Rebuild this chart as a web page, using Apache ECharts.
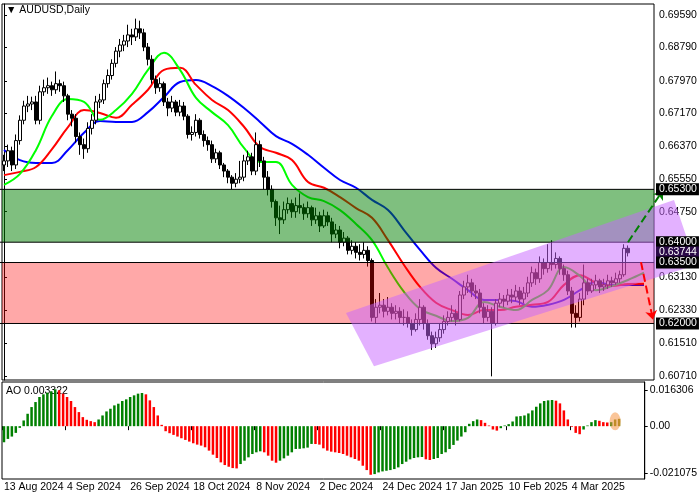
<!DOCTYPE html>
<html><head><meta charset="utf-8">
<script src="https://cdn.jsdelivr.net/npm/echarts@6/dist/echarts.min.js"></script>
<style>html,body{margin:0;padding:0;background:#fff}#c{width:700px;height:500px}</style>
</head><body><div id="c"></div>
<script>
const closes=[0.6600,0.6625,0.6590,0.6650,0.6700,0.6735,0.6740,0.6745,0.6700,0.6770,
0.6780,0.6785,0.6775,0.6790,0.6785,0.6760,0.6715,0.6705,0.6660,0.6640,
0.6630,0.6680,0.6700,0.6745,0.6750,0.6790,0.6810,0.6840,0.6870,0.6885,
0.6895,0.6910,0.6905,0.6925,0.6915,0.6880,0.6850,0.6800,0.6780,0.6790,
0.6745,0.6730,0.6745,0.6720,0.6735,0.6710,0.6665,0.6670,0.6700,0.6665,
0.6650,0.6640,0.6605,0.6620,0.6590,0.6575,0.6560,0.6545,0.6555,0.6560,
0.6600,0.6610,0.6575,0.6640,0.6600,0.6560,0.6530,0.6500,0.6460,0.6455,
0.6480,0.6495,0.6475,0.6490,0.6485,0.6470,0.6485,0.6455,0.6465,0.6440,
0.6465,0.6450,0.6420,0.6430,0.6400,0.6410,0.6380,0.6390,0.6375,0.6370,
0.6380,0.6355,0.6215,0.6240,0.6245,0.6230,0.6240,0.6225,0.6230,0.6215,
0.6215,0.6200,0.6185,0.6210,0.6240,0.6200,0.6170,0.6150,0.6165,0.6185,
0.6205,0.6215,0.6225,0.6210,0.6270,0.6290,0.6300,0.6280,0.6275,0.6240,
0.6215,0.6230,0.6200,0.6250,0.6260,0.6255,0.6270,0.6265,0.6280,0.6260,
0.6275,0.6300,0.6325,0.6310,0.6350,0.6335,0.6350,0.6345,0.6360,0.6335,
0.6320,0.6280,0.6225,0.6215,0.6260,0.6300,0.6280,0.6295,0.6305,0.6290,
0.6295,0.6305,0.6300,0.6310,0.6320,0.6385,0.6374];
const highs=[0.6615,0.6640,0.6635,0.6665,0.6712,0.6748,0.6760,0.6758,0.6760,0.6785,
0.6800,0.6805,0.6795,0.6820,0.6800,0.6795,0.6765,0.6725,0.6715,0.6670,
0.6655,0.6695,0.6715,0.6760,0.6765,0.6800,0.6825,0.6850,0.6880,0.6900,
0.6910,0.6935,0.6925,0.6950,0.6945,0.6925,0.6890,0.6860,0.6810,0.6805,
0.6795,0.6755,0.6760,0.6750,0.6750,0.6745,0.6715,0.6685,0.6715,0.6705,
0.6675,0.6660,0.6650,0.6630,0.6625,0.6595,0.6580,0.6565,0.6570,0.6600,
0.6615,0.6625,0.6620,0.6670,0.6650,0.6610,0.6575,0.6540,0.6505,0.6490,
0.6500,0.6510,0.6505,0.6510,0.6520,0.6495,0.6500,0.6490,0.6485,0.6475,
0.6480,0.6475,0.6460,0.6445,0.6440,0.6425,0.6415,0.6405,0.6400,0.6395,
0.6400,0.6390,0.6360,0.6260,0.6275,0.6260,0.6265,0.6250,0.6245,0.6240,
0.6235,0.6230,0.6210,0.6225,0.6260,0.6245,0.6210,0.6180,0.6180,0.6200,
0.6220,0.6230,0.6245,0.6235,0.6280,0.6305,0.6320,0.6310,0.6295,0.6285,
0.6250,0.6245,0.6240,0.6260,0.6275,0.6270,0.6285,0.6285,0.6295,0.6290,
0.6290,0.6315,0.6340,0.6335,0.6365,0.6360,0.6395,0.6405,0.6375,0.6365,
0.6345,0.6330,0.6290,0.6245,0.6275,0.6345,0.6310,0.6310,0.6320,0.6310,
0.6310,0.6320,0.6315,0.6325,0.6330,0.6395,0.6392];
const lows=[0.6575,0.6585,0.6575,0.6580,0.6640,0.6690,0.6720,0.6725,0.6690,0.6690,
0.6760,0.6765,0.6760,0.6765,0.6770,0.6745,0.6700,0.6685,0.6645,0.6615,
0.6605,0.6620,0.6665,0.6690,0.6730,0.6740,0.6780,0.6800,0.6830,0.6855,
0.6870,0.6880,0.6885,0.6895,0.6900,0.6870,0.6835,0.6790,0.6765,0.6770,
0.6735,0.6710,0.6720,0.6710,0.6710,0.6700,0.6655,0.6650,0.6660,0.6655,
0.6635,0.6625,0.6595,0.6595,0.6580,0.6560,0.6545,0.6530,0.6535,0.6545,
0.6550,0.6590,0.6565,0.6565,0.6585,0.6530,0.6515,0.6485,0.6440,0.6420,
0.6445,0.6470,0.6460,0.6460,0.6470,0.6455,0.6460,0.6440,0.6445,0.6425,
0.6435,0.6440,0.6400,0.6410,0.6385,0.6390,0.6370,0.6370,0.6360,0.6355,
0.6360,0.6340,0.6205,0.6200,0.6225,0.6215,0.6220,0.6210,0.6210,0.6200,
0.6195,0.6190,0.6170,0.6180,0.6195,0.6185,0.6160,0.6135,0.6140,0.6155,
0.6175,0.6195,0.6205,0.6195,0.6205,0.6260,0.6275,0.6265,0.6260,0.6225,
0.6200,0.6205,0.6070,0.6195,0.6240,0.6240,0.6245,0.6250,0.6255,0.6245,
0.6250,0.6265,0.6290,0.6295,0.6300,0.6320,0.6325,0.6330,0.6335,0.6320,
0.6305,0.6270,0.6190,0.6190,0.6205,0.6245,0.6270,0.6275,0.6285,0.6275,
0.6280,0.6285,0.6290,0.6295,0.6300,0.6315,0.6365];
const firstOpen=0.6590;
const jaw=[0.6627,0.6602,0.6595,0.6595,0.6627,0.6669,0.6698,0.6696,0.6696,0.6720,0.6757,0.6794,0.6799,0.6784,0.6760,0.6730,0.6696,0.6661,0.6642,0.6615,0.6583,0.6553,0.6534,0.6504,0.6479,0.6430,0.6381,0.6337,0.6310,0.6282,0.6258,0.6258,0.6255,0.6241,0.6246,0.6258,0.6282,0.6302,0.6295,0.6295,0.6295];
const teeth=[0.6565,0.6573,0.6585,0.6629,0.6683,0.6725,0.6718,0.6706,0.6738,0.6775,0.6824,0.6829,0.6787,0.6750,0.6725,0.6684,0.6634,0.6620,0.6602,0.6548,0.6534,0.6511,0.6484,0.6460,0.6405,0.6344,0.6290,0.6251,0.6233,0.6221,0.6233,0.6233,0.6241,0.6246,0.6253,0.6295,0.6319,0.6300,0.6292,0.6297,0.6298];
const lips=[0.6541,0.6568,0.6627,0.6711,0.6752,0.6745,0.6701,0.6725,0.6765,0.6824,0.6866,0.6824,0.6755,0.6720,0.6688,0.6632,0.6597,0.6597,0.6541,0.6511,0.6501,0.6479,0.6445,0.6405,0.6337,0.6278,0.6236,0.6219,0.6206,0.6214,0.6253,0.6241,0.6233,0.6258,0.6282,0.6339,0.6317,0.6282,0.6292,0.6307,0.6325];
const ao=[-0.00725,-0.00574,-0.00468,-0.00302,-0.00076,0.00257,0.00559,0.00861,0.01087,0.01314,
0.01435,0.01510,0.01570,0.01661,0.01616,0.01465,0.01314,0.01133,0.00861,0.00634,
0.00408,0.00287,0.00227,0.00181,0.00302,0.00483,0.00664,0.00785,0.00936,0.01012,
0.01133,0.01208,0.01314,0.01389,0.01465,0.01495,0.01435,0.01163,0.00861,0.00483,
0.00060,-0.00227,-0.00317,-0.00393,-0.00468,-0.00544,-0.00619,-0.00695,-0.00770,-0.00831,
-0.00876,-0.00951,-0.01102,-0.01284,-0.01435,-0.01631,-0.01752,-0.01827,-0.01888,-0.01903,
-0.01706,-0.01555,-0.01404,-0.01253,-0.01178,-0.01133,-0.01178,-0.01329,-0.01555,-0.01646,
-0.01555,-0.01450,-0.01329,-0.01178,-0.01027,-0.01020,-0.00997,-0.00966,-0.00800,-0.00805,
-0.00831,-0.00997,-0.01102,-0.01148,-0.01178,-0.01208,-0.01253,-0.01329,-0.01404,-0.01480,
-0.01555,-0.01782,-0.01978,-0.02190,-0.02159,-0.02084,-0.02038,-0.02008,-0.01978,-0.01933,
-0.01857,-0.01706,-0.01601,-0.01495,-0.01435,-0.01404,-0.01389,-0.01495,-0.01525,-0.01480,
-0.01435,-0.01253,-0.01178,-0.01027,-0.00846,-0.00649,-0.00468,-0.00272,0.00106,0.00227,
0.00302,0.00272,0.00151,0.00030,-0.00151,-0.00200,-0.00091,0.00030,0.00091,0.00211,
0.00438,0.00453,0.00483,0.00574,0.00710,0.00876,0.01027,0.01133,0.01163,0.01178,
0.01148,0.01027,0.00710,0.00302,-0.00030,-0.00302,-0.00362,-0.00151,0.00030,0.00181,
0.00272,0.00242,0.00181,0.00166,0.00181,0.00302,0.00332];
const tickLabels=['13 Aug 2024','4 Sep 2024','26 Sep 2024','18 Oct 2024','8 Nov 2024','2 Dec 2024','24 Dec 2024','17 Jan 2025','10 Feb 2025','4 Mar 2025'];
const priceTicks=[0.69590,0.68790,0.67970,0.67170,0.66370,0.65550,0.64750,0.63130,0.62330,0.61510,0.60710];
const aoTicks=[0.016306,0,-0.021075];
const greenZone=[0.6400,0.6530], redZone=[0.6200,0.6350];
const levelLines=[0.6530,0.6400,0.6350,0.6200];
const levelLabels=[0.6530,0.6400,0.63744,0.6350,0.6200];
const channel=[[85.5,0.6226],[167.5,0.6504],[173,0.6344],[92.5,0.6095]];
const upArrow=[[156,0.6400],[164.75,0.6528]];
const downArrow=[[159.25,0.6351],[162.25,0.6209]];
const slots=163;

const cats=[];for(let i=0;i<slots;i++)cats.push(i);
const ohlc=closes.map((c,i)=>{const o=i?closes[i-1]:firstOpen;return [o,c,lows[i],highs[i]];});
const maPts=a=>a.map((v,k)=>[Math.min(k*4,slots-1),v]);
const aoData=ao.map((v,i)=>({value:v,itemStyle:{color:(i>=ao.length-2)?'#808000':((i===0||v>ao[i-1])?'#008000':'#ff0000')}}));
const F='Liberation Sans, Arial, sans-serif';
const chart=echarts.init(document.getElementById('c'));
function rect(api,x0,x1,y0,y1,fill){const a=api.coord([x0,y1]),b=api.coord([x1,y0]);return {type:'rect',shape:{x:a[0],y:a[1],width:b[0]-a[0],height:b[1]-a[1]},style:{fill:fill}};}
const tickOk=i=>i%16===0&&i<=144;
chart.setOption({
  animation:false,
  grid:[{left:2,right:46,top:4,height:376,show:true,borderColor:'#000',borderWidth:1},
        {left:2,right:46,top:382,height:97,show:true,borderColor:'#000',borderWidth:1}],
  xAxis:[
    {type:'category',data:cats,gridIndex:0,boundaryGap:true,axisLine:{show:false},axisTick:{show:false},axisLabel:{show:false}},
    {type:'value',gridIndex:0,min:-0.5,max:slots-0.5,show:false},
    {type:'category',data:cats,gridIndex:1,boundaryGap:true,axisLine:{show:false},
     axisTick:{show:true,interval:tickOk,length:4,lineStyle:{color:'#000'}},
     axisLabel:{interval:tickOk,formatter:(v,i)=>tickLabels[i/16]||'',align:'left',margin:3,color:'#000',fontSize:10.5,fontFamily:F}}
  ],
  yAxis:[
    {type:'value',gridIndex:0,position:'right',min:0.6061,max:0.6986,splitLine:{show:false},
     axisLine:{show:true,lineStyle:{color:'#000'}},axisTick:{show:true,customValues:priceTicks,length:3,lineStyle:{color:'#000'}},
     axisLabel:{customValues:priceTicks,formatter:v=>v.toFixed(5),color:'#000',fontSize:10.5,fontFamily:F,margin:5}},
    {type:'value',gridIndex:1,position:'right',min:-0.0238,max:0.0199,splitLine:{show:false},
     axisLine:{show:true,lineStyle:{color:'#000'}},axisTick:{show:true,customValues:aoTicks,length:3,lineStyle:{color:'#000'}},
     axisLabel:{customValues:aoTicks,formatter:v=>v===0?'0.00':v.toFixed(6),color:'#000',fontSize:10.5,fontFamily:F,margin:5}}
  ],
  graphic:[{type:'text',left:6,top:5,style:{text:'▼ AUDUSD,Daily',fill:'#000',fontSize:10.5,fontFamily:F}},
           {type:'text',left:6,top:386,style:{text:'AO 0.003322',fill:'#000',fontSize:10.5,fontFamily:F}}],
  series:[
    {type:'line',xAxisIndex:1,yAxisIndex:0,data:maPts(jaw),smooth:0.4,showSymbol:false,lineStyle:{color:'#0000ff',width:2},z:3},
    {type:'line',xAxisIndex:1,yAxisIndex:0,data:maPts(teeth),smooth:0.4,showSymbol:false,lineStyle:{color:'#ff0000',width:2},z:3},
    {type:'line',xAxisIndex:1,yAxisIndex:0,data:maPts(lips),smooth:0.4,showSymbol:false,lineStyle:{color:'#00ff00',width:2},z:3},
    {type:'candlestick',xAxisIndex:0,yAxisIndex:0,data:ohlc,barWidth:3,z:4,
     itemStyle:{color:'#ffffff',color0:'#000000',borderColor:'#000000',borderColor0:'#000000',borderWidth:1}},
    {type:'custom',xAxisIndex:1,yAxisIndex:0,data:[0],clip:false,z:5,
     renderItem:(p,api)=>{
       const ch=[
         rect(api,-0.5,slots-0.5,greenZone[0],greenZone[1],'rgba(0,128,0,0.5)'),
         rect(api,-0.5,slots-0.5,redZone[0],redZone[1],'rgba(255,0,0,0.34)')];
       levelLines.forEach(v=>{const a=api.coord([-0.5,v]),b=api.coord([slots-0.5,v]);
         ch.push({type:'line',shape:{x1:a[0]-2,y1:a[1],x2:b[0],y2:b[1]},style:{stroke:'#000',lineWidth:1}});});
       ch.push({type:'polygon',shape:{points:channel.map(c=>api.coord(c))},style:{fill:'rgba(200,100,255,0.5)'}});
       return {type:'group',children:ch};
     }},
    {type:'custom',xAxisIndex:1,yAxisIndex:0,data:[0],clip:false,z:8,
     renderItem:(p,api)=>({type:'group',children:levelLabels.map((v,k)=>{const b=api.coord([slots-0.5,v]);
       return {type:'text',x:b[0]+2,y:b[1],style:{text:v.toFixed(5),fill:'#fff',backgroundColor:k===2?'#2b0a48':'#000',padding:[1,2,0,3],
         font:'10.5px '+F,verticalAlign:'middle',align:'left'}};})})},
    {type:'lines',coordinateSystem:'cartesian2d',xAxisIndex:1,yAxisIndex:0,clip:false,z:6,
     symbol:['none','arrow'],symbolSize:9,
     data:[{coords:upArrow,lineStyle:{color:'#008000'}},{coords:downArrow,lineStyle:{color:'#ff0000'}}],
     lineStyle:{width:2,type:'dashed',opacity:1}},
    {type:'bar',xAxisIndex:2,yAxisIndex:1,data:aoData,barWidth:2.5,
     markPoint:{symbol:'circle',symbolSize:[11,18],data:[{coord:[155,0.0022]}],itemStyle:{color:'rgba(245,150,70,0.55)'},label:{show:false}}}
  ]
});
</script></body></html>
